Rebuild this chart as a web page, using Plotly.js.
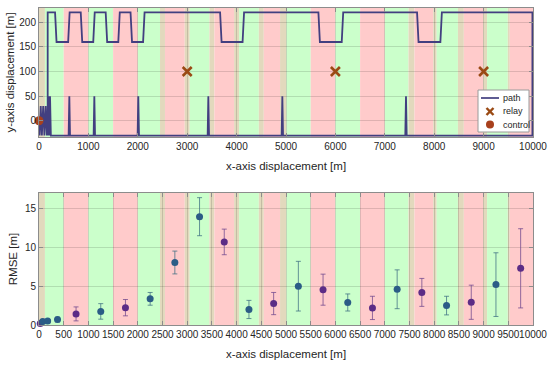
<!DOCTYPE html>
<html>
<head>
<meta charset="utf-8">
<script src="https://cdn.plot.ly/plotly-3.0.1.min.js"></script>
<style>html,body{margin:0;padding:0;background:#fff;}#chart{width:550px;height:367px;}</style>
</head>
<body>
<div id="chart"></div>
<script>
// ---- coverage zones along x (r = red relay zone, g = green relay zone, t = overlap) ----
const zoneStart = [0, 120, 500, 1000, 1500, 2000, 2450, 2550, 2950, 3050, 3450, 3550, 3950, 4050, 4450, 4550, 4880, 5010, 5500, 6000, 6500, 7000, 7480, 7600, 7980, 8050, 8480, 8600, 8990, 9070, 9490, 9530];
const zoneEnd   = [120, 500, 1000, 1500, 2000, 2450, 2550, 2950, 3050, 3450, 3550, 3950, 4050, 4450, 4550, 4880, 5010, 5500, 6000, 6500, 7000, 7480, 7600, 7980, 8050, 8480, 8600, 8990, 9070, 9490, 9530, 10000];
const zoneType  = ['t','g','r','g','r','g','t','r','t','g','t','r','t','g','t','r','t','g','r','g','r','g','t','r','t','g','t','r','t','g','t','r'];

// ---- top panel: path, relays, control ----
const pathX = [0, 12, 35, 58, 85, 110, 135, 160, 189, 206, 223, 240,
  600, 614, 628, 1106, 1120, 1134, 1996, 2010, 2024, 3414, 3428, 3442,
  4912, 4926, 4940, 7415, 7429, 7443, 9988, 9988,
  8155, 8125, 7683, 7653, 6158, 6128, 5686, 5656, 4151, 4121, 3696, 3666,
  2137, 2107, 1883, 1853, 1635, 1605, 1380, 1350, 1128, 1098, 875, 845,
  620, 590, 355, 325, 176, 176];
const pathY = [0, -30, 30, -30, 30, -30, 30, -30, 50, -30, 50, -30,
  -30, 50, -30, -30, 50, -30, -30, 50, -30, -30, 50, -30,
  -30, 50, -30, -30, 50, -30, -30, 220,
  220, 160, 160, 220, 220, 160, 160, 220, 220, 160, 160, 220,
  220, 160, 160, 220, 220, 160, 160, 220, 220, 160, 160, 220,
  220, 160, 160, 220, 220, -30];
const relayX = [3000, 6000, 9000];
const relayY = [100, 100, 100];
const controlX = [0];
const controlY = [0];
const legendLabels = ['path', 'relay', 'control'];

// ---- bottom panel: RMSE per segment ----
const rmseX   = [25, 75, 175, 375, 750, 1250, 1750, 2250, 2750, 3250, 3750, 4250, 4750, 5250, 5750, 6250, 6750, 7250, 7750, 8250, 8750, 9250, 9750];
const rmse    = [0.2, 0.45, 0.5, 0.7, 1.43, 1.75, 2.23, 3.37, 8.05, 13.95, 10.7, 2.0, 2.76, 5.0, 4.55, 2.9, 2.2, 4.6, 4.2, 2.5, 2.93, 5.2, 7.3];
const rmseErr = [0.1, 0.15, 0.15, 0.3, 0.9, 1.0, 1.05, 0.82, 1.47, 2.45, 1.65, 1.17, 1.43, 3.2, 2.0, 1.1, 1.5, 2.5, 1.8, 1.2, 2.2, 4.1, 5.1];
const rmseGroup = ['A','B','B','B','A','B','A','B','B','B','A','B','A','B','A','B','A','B','A','B','A','B','A'];
const rmseTicks = [0, 500, 1000, 1500, 2000, 2500, 3000, 3500, 4000, 4500, 5000, 5500, 6000, 6500, 7000, 7500, 8000, 8500, 9000, 9500, 10000];

const FONT = '"Liberation Sans", Arial, sans-serif';
const TXT = '#262626';
const AX = '#8c8c8c';
const GRID = 'rgba(0,0,0,0.13)';
const PATHC = '#423f80', RELAYC = '#9a4a14', CTRLC = '#a8401c';
const zoneColor = {r:'#ffcbcb', g:'#cbffcb', t:'#e2d9bd'};

// plot-area pixel -> paper helpers (plot area 39..533 x 8..325)
const W = 494, H = 317, L = 39, B = 325;
const px = v => (v - L) / W;
const py = v => (B - v) / H;

const shapes = [];
for (let i = 0; i < zoneStart.length; i++) {
  [['x','y domain'],['x2','y2 domain']].forEach(([xr, yr]) => {
    shapes.push({type:'rect', layer:'below', xref:xr, yref:yr, x0:zoneStart[i], x1:zoneEnd[i], y0:0, y1:1,
      fillcolor:zoneColor[zoneType[i]], line:{width:0}});
  });
}

// custom compact legend
shapes.push({type:'rect', layer:'above', xref:'paper', yref:'paper', x0:px(478), x1:px(529), y0:py(132), y1:py(90),
  fillcolor:'#ffffff', line:{color:'#9a9a9a', width:1}});
shapes.push({type:'line', layer:'above', xref:'paper', yref:'paper', x0:px(481), x1:px(499), y0:py(98), y1:py(98),
  line:{color:PATHC, width:1.7}});
[[-3.5,3.5],[3.5,-3.5]].forEach(([a,b]) => shapes.push({type:'line', layer:'above', xref:'paper', yref:'paper',
  xsizemode:'pixel', ysizemode:'pixel', xanchor:px(490), yanchor:py(111.5), x0:-3.5, x1:3.5, y0:a, y1:b,
  line:{color:RELAYC, width:2.4}}));
shapes.push({type:'circle', layer:'above', xref:'paper', yref:'paper', xsizemode:'pixel', ysizemode:'pixel',
  xanchor:px(490), yanchor:py(124.5), x0:-4, x1:4, y0:-4, y1:4, fillcolor:CTRLC, line:{width:0}});
const annotations = legendLabels.map((t, i) => ({text:t, xref:'paper', yref:'paper', x:px(501), y:py([98,111.5,124.5][i]),
  xanchor:'left', yanchor:'middle', showarrow:false, font:{family:FONT, size:9, color:TXT}}));

const groupStyle = {
  A: {color:'#5c2c86', err:'rgba(110,70,140,0.75)'},
  B: {color:'#2b5c86', err:'rgba(60,110,130,0.75)'}
};

const traces = [
  {x:pathX, y:pathY, type:'scatter', mode:'lines', name:legendLabels[0], xaxis:'x', yaxis:'y',
   line:{color:PATHC, width:1.8}},
  {x:relayX, y:relayY, type:'scatter', mode:'markers', name:legendLabels[1], xaxis:'x', yaxis:'y',
   marker:{symbol:'x-thin-open', size:9, color:RELAYC, line:{width:2.6, color:RELAYC}}},
  {x:controlX, y:controlY, type:'scatter', mode:'markers', name:legendLabels[2], xaxis:'x', yaxis:'y', cliponaxis:false,
   marker:{symbol:'circle', size:9, color:CTRLC}}
];

['A','B'].forEach(g => {
  const idx = rmseGroup.map((v,i)=>v===g?i:-1).filter(i=>i>=0);
  traces.push({
    x: idx.map(i=>rmseX[i]), y: idx.map(i=>rmse[i]), type:'scatter', mode:'markers',
    xaxis:'x2', yaxis:'y2', cliponaxis:false,
    marker:{size:7, color:groupStyle[g].color},
    error_y:{type:'data', array: idx.map(i=>rmseErr[i]), visible:true, color:groupStyle[g].err, thickness:1, width:2.5}
  });
});

const axBase = {showline:true, mirror:'ticks', linecolor:AX, linewidth:1, ticks:'inside', ticklen:4, tickcolor:AX,
  showgrid:true, gridcolor:GRID, gridwidth:1, zeroline:false, tickangle:0, tickformat:'d',
  tickfont:{family:FONT, size:10, color:TXT}};
const titleFont = {family:FONT, size:11.5, color:TXT};

const layout = {
  width:550, height:367,
  margin:{l:39, r:17, t:8, b:42},
  paper_bgcolor:'#ffffff', plot_bgcolor:'#ffffff',
  font:{family:FONT, color:TXT},
  showlegend:false,
  xaxis: Object.assign({}, axBase, {domain:[0,1], range:[0,10000], tickvals:[0,1000,2000,3000,4000,5000,6000,7000,8000,9000,10000],
    anchor:'y', title:{text:'x-axis displacement [m]', font:titleFont, standoff:10}}),
  yaxis: Object.assign({}, axBase, {domain:[0.593,1], range:[-33,229], tickvals:[0,50,100,150,200],
    anchor:'x', title:{text:'y-axis displacement [m]', font:titleFont, standoff:2}}),
  xaxis2: Object.assign({}, axBase, {domain:[0,1], range:[0,10000], tickmode:'array', tickvals:rmseTicks,
    ticktext:rmseTicks.map(String),
    anchor:'y2', title:{text:'x-axis displacement [m]', font:titleFont, standoff:10}}),
  yaxis2: Object.assign({}, axBase, {domain:[0,0.4164], range:[0,17], tickvals:[0,5,10,15],
    anchor:'x2', title:{text:'RMSE [m]', font:titleFont, standoff:4}}),
  shapes: shapes,
  annotations: annotations
};

Plotly.newPlot('chart', traces, layout, {staticPlot:true, displayModeBar:false});
</script>
</body>
</html>
